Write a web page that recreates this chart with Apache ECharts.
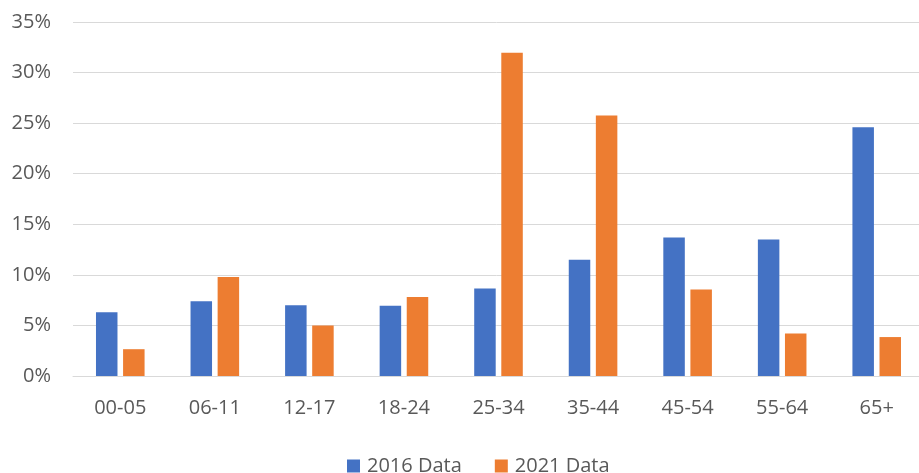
<!DOCTYPE html>
<html>
<head>
<meta charset="utf-8">
<script src="https://cdn.jsdelivr.net/npm/echarts@6/dist/echarts.min.js"></script>
<style>
  html, body { margin: 0; padding: 0; background: #ffffff; }
  #chart { width: 919px; height: 473px; }
</style>
</head>
<body>
<div id="chart"></div>
<script>
// Age bands on the category axis
const ageGroups = ['00-05', '06-11', '12-17', '18-24', '25-34', '35-44', '45-54', '55-64', '65+'];

// Share of each age band (percent)
const data2016 = [6.3, 7.4, 7.0, 6.95, 8.65, 11.5, 13.7, 13.5, 24.6];
const data2021 = [2.65, 9.8, 5.0, 7.8, 31.95, 25.75, 8.55, 4.2, 3.85];

const seriesNames = ['2016 Data', '2021 Data'];

const FONT = '"Open Sans", "Liberation Sans", sans-serif';
const TEXT_COLOR = '#595959';

const chart = echarts.init(document.getElementById('chart'), null, { renderer: 'canvas' });

chart.setOption({
  animation: false,
  backgroundColor: '#ffffff',
  // the plot area runs slightly past the right edge of the canvas
  grid: { left: 73, top: 22, width: 851, height: 354, containLabel: false, outerBoundsMode: 'none' },
  legend: {
    data: seriesNames,
    top: 451,
    left: 342,
    itemWidth: 13,
    itemHeight: 13,
    itemGap: 33,
    icon: 'rect',
    textStyle: { fontFamily: FONT, fontSize: 20, color: TEXT_COLOR, padding: [0, 0, 0, 2] }
  },
  xAxis: {
    type: 'category',
    data: ageGroups,
    axisLine: { show: true, lineStyle: { color: '#d9d9d9', width: 1 } },
    axisTick: { show: false },
    axisLabel: { fontFamily: FONT, fontSize: 20, color: TEXT_COLOR, margin: 22 }
  },
  yAxis: {
    type: 'value',
    min: 0,
    max: 35,
    interval: 5,
    axisLine: { show: false },
    axisTick: { show: false },
    splitLine: { lineStyle: { color: '#d9d9d9', width: 1 } },
    axisLabel: {
      fontFamily: FONT, fontSize: 20, color: TEXT_COLOR, margin: 22,
      formatter: v => v + '%'
    }
  },
  series: [
    {
      name: seriesNames[0],
      type: 'bar',
      data: data2016,
      barWidth: 21.5,
      barGap: '26%',
      itemStyle: { color: '#4472C4' }
    },
    {
      name: seriesNames[1],
      type: 'bar',
      data: data2021,
      barWidth: 21.5,
      barGap: '26%',
      itemStyle: { color: '#ED7D31' }
    }
  ]
});
</script>
</body>
</html>
